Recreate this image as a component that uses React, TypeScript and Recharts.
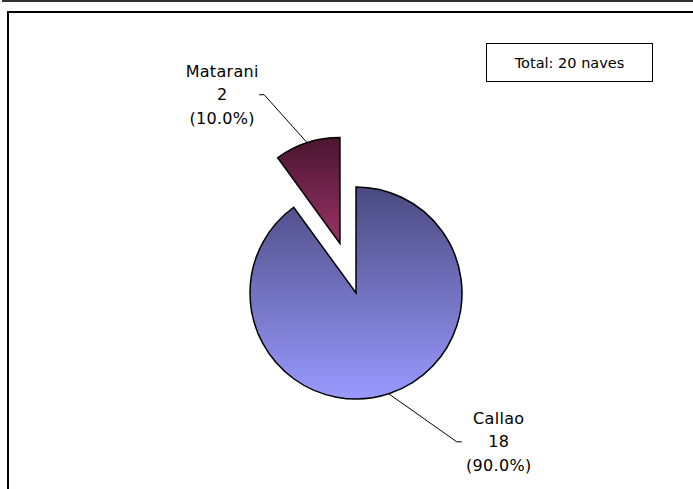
import { PieChart, Pie, Cell } from "recharts";

// puertos y número de naves
const ports = ["Callao", "Matarani"];
const ships = [18, 2];
const totalLabel = "Total: 20 naves";

const baseColors = ["#9999FF", "#993366"];
const darkColors = ["#4a4a80", "#4a1530"];

// la porción de Matarani va separada del resto
const exploded = [0, 1];
const EXPLODE = 52;

// desplazamiento de la línea guía respecto al borde de la porción
const leader: Record<string, { dx: number; dy: number }> = {
  Callao: { dx: 68, dy: 48 },
  Matarani: { dx: -43, dy: -48 },
};

const W = 693;
const H = 489;
// el PieChart suma su margen (5px) a cx / cy
const CX = 351;
const CY = 288;
const R = 106;
const FONT = "'DejaVu Sans', sans-serif";

const data = ports.map((name, i) => ({ name, value: ships[i] }));
const total = ships.reduce((a, b) => a + b, 0);

// ángulo medio de cada porción (grados, convención de Recharts)
const midAngles = (() => {
  let acc = 0;
  return ships.map((v) => {
    const start = 90 - (acc / total) * 360;
    acc += v;
    const end = 90 - (acc / total) * 360;
    return (start + end) / 2;
  });
})();

const RAD = Math.PI / 180;

function renderLabel(only: number) {
  return (props: any) => {
    const { cx, cy, midAngle, outerRadius, index, name, value, percent } = props;
    if (index !== only) return null;
    const sx = cx + outerRadius * Math.cos(-midAngle * RAD);
    const sy = cy + outerRadius * Math.sin(-midAngle * RAD);
    const off = leader[name];
    const ex = sx + off.dx;
    const ey = sy + off.dy;
    const dir = off.dx >= 0 ? 1 : -1;
    const tx = ex + dir * 5;
    const textX = tx + dir * 37;
    const lines = [name, String(value), `(${(percent * 100).toFixed(1)}%)`];
    return (
      <g>
        <polyline
          points={`${sx},${sy} ${ex},${ey} ${tx},${ey}`}
          fill="none"
          stroke="#000"
          strokeWidth={1}
        />
        {lines.map((t, k) => (
          <text
            key={k}
            x={textX}
            y={ey + (k - 1) * 23.5}
            textAnchor="middle"
            dominantBaseline="central"
            fontFamily={FONT}
            fontSize={16}
            letterSpacing={0.3}
            fill="#000"
          >
            {t}
          </text>
        ))}
      </g>
    );
  };
}

export default function App() {
  return (
    <div style={{ position: "absolute", left: 0, top: 0, width: W, height: H, overflow: "hidden", background: "#fff" }}>
      <div style={{ position: "absolute", left: 2, top: 0, right: 0, height: 2, background: "#333" }} />
      <div
        style={{
          position: "absolute",
          left: 7,
          top: 11,
          width: 800,
          height: 600,
          borderLeft: "2px solid #000",
          borderTop: "2px solid #000",
        }}
      />
      <div style={{ position: "absolute", left: 0, top: 0 }}>
        <PieChart width={W} height={H}>
          <defs>
            {baseColors.map((c, i) => (
              <linearGradient key={i} id={`grad${i}`} x1="0" y1="0" x2="0" y2="1">
                <stop offset="0%" stopColor={darkColors[i]} />
                <stop offset="100%" stopColor={c} />
              </linearGradient>
            ))}
          </defs>
          {data.map((_, si) => {
            const d = exploded[si] ? EXPLODE : 0;
            const cx = CX + d * Math.cos(-midAngles[si] * RAD);
            const cy = CY + d * Math.sin(-midAngles[si] * RAD);
            return (
              <Pie
                key={si}
                data={data}
                dataKey="value"
                nameKey="name"
                cx={cx}
                cy={cy}
                outerRadius={R}
                startAngle={90}
                endAngle={-270}
                isAnimationActive={false}
                labelLine={false}
                label={renderLabel(si)}
              >
                {data.map((_, i) => (
                  <Cell
                    key={i}
                    fill={i === si ? `url(#grad${i})` : "none"}
                    stroke={i === si ? "#000" : "none"}
                    strokeWidth={1.5}
                  />
                ))}
              </Pie>
            );
          })}
        </PieChart>
      </div>
      <div
        style={{
          position: "absolute",
          left: 486,
          top: 43,
          width: 165,
          height: 37,
          border: "1px solid #000",
          display: "flex",
          alignItems: "center",
          justifyContent: "center",
          fontFamily: FONT,
          fontSize: 14.5,
          background: "#fff",
        }}
      >
        {totalLabel}
      </div>
    </div>
  );
}
